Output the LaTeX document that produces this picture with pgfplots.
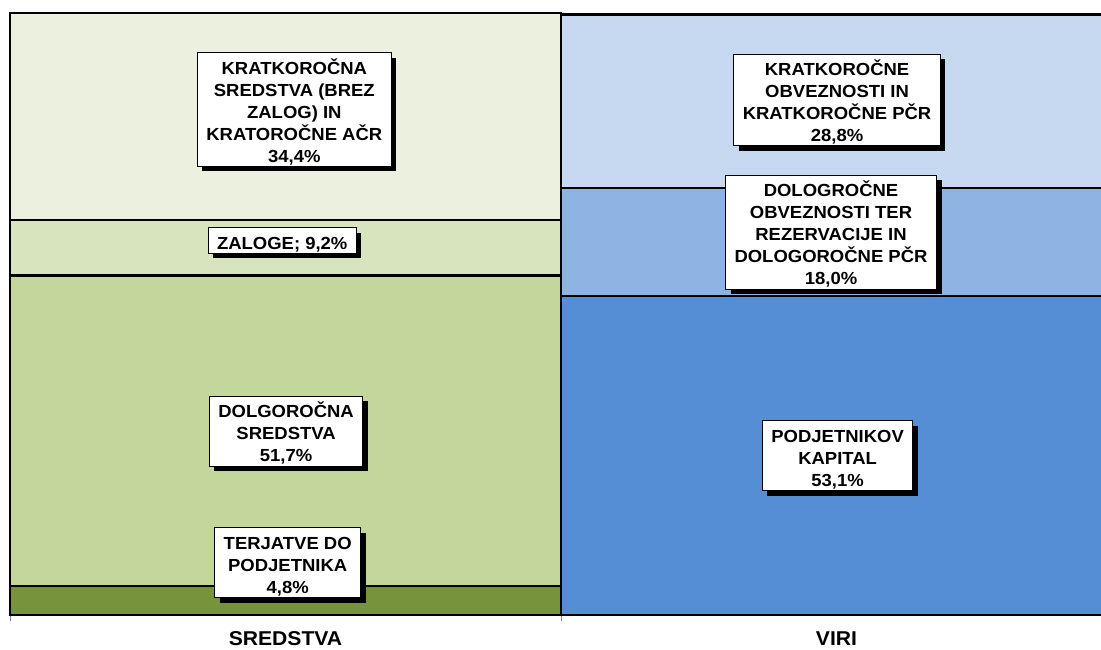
\documentclass[border=0pt]{standalone}
\usepackage{pgfplots}
\pgfplotsset{compat=1.18}
\usepackage{fontspec}
\setmainfont{Liberation Sans}
\newfontfamily\lblfont{Liberation Sans}[FakeStretch=1.056]
\usetikzlibrary{shadows}
\definecolor{lA}{HTML}{EBF1DE}
\definecolor{lB}{HTML}{D7E4BD}
\definecolor{lC}{HTML}{C3D69B}
\definecolor{lD}{HTML}{77933C}
\definecolor{rA}{HTML}{C6D9F1}
\definecolor{rB}{HTML}{8EB4E3}
\definecolor{rC}{HTML}{558ED5}
\newcommand\T{\rule{0pt}{20pt}}
\newcommand\B{\rule[-2.5pt]{0pt}{2.5pt}}
\tikzset{
  lbl/.style={draw=black, line width=0.8pt, fill=white, align=center,
    font=\lblfont\bfseries\fontsize{17.5}{22}\selectfont,
    inner xsep=9pt, inner ysep=1.5pt,
    drop shadow={shadow xshift=5pt, shadow yshift=-5pt, opacity=1, fill=black}}
}
\pgfplotsset{
  base/.style={at={(10pt,34pt)}, anchor=south west, scale only axis,
    width=1091pt, height=601pt, xmin=-0.5, xmax=1.48, ymin=0, ymax=100,
    ybar stacked, bar width=1, clip=false},
  seg/.style={draw=black, line width=2.2pt, fill=#1}
}
\begin{document}
\begin{tikzpicture}[x=1pt,y=1pt]
\begin{axis}[base,
  axis y line=none, axis x line*=bottom,
  x axis line style={line width=2.5pt, black},
  xtick={0,1}, xticklabels={SREDSTVA,VIRI},
  major tick length=0pt,
  xticklabel style={font=\lblfont\bfseries\fontsize{20}{22}\selectfont, anchor=base, yshift=-30.5pt},
  extra x ticks={-0.5,0.5}, extra x tick labels={},
  extra x tick style={major tick length=6pt, tick align=outside, tick style={gray, line width=0.8pt}},
  ]
\addplot[seg=lD] coordinates {(0,4.8)};
\addplot[seg=lC] coordinates {(0,51.7)};
\addplot[seg=lB] coordinates {(0,9.2)};
\addplot[seg=lA] coordinates {(0,34.4)};
\end{axis}
\begin{axis}[base, hide axis]
\addplot[seg=rC] coordinates {(1,53.1)};
\addplot[seg=rB] coordinates {(1,18.0)};
\addplot[seg=rA] coordinates {(1,28.8)};
\end{axis}
\begin{axis}[base, hide axis]
\node[lbl] at (axis cs:0.016,84.1) {\T KRATKOROČNA\\SREDSTVA (BREZ\\ZALOG) IN\\KRATOROČNE AČR\\34,4\%\B};
\node[lbl] at (axis cs:-0.006,62.3) {\T ZALOGE; 9,2\%\B};
\node[lbl] at (axis cs:0.001,30.6) {\T DOLGOROČNA\\SREDSTVA\\51,7\%\B};
\node[lbl] at (axis cs:0.004,8.7) {\T TERJATVE DO\\PODJETNIKA\\4,8\%\B};
\node[lbl] at (axis cs:1.001,85.7) {\T KRATKOROČNE\\OBVEZNOSTI IN\\KRATKOROČNE PČR\\28,8\%\B};
\node[lbl] at (axis cs:0.99,63.7) {\T DOLOGROČNE\\OBVEZNOSTI TER\\REZERVACIJE IN\\DOLOGOROČNE PČR\\18,0\%\B};
\node[lbl] at (axis cs:1.002,26.5) {\T PODJETNIKOV\\KAPITAL\\53,1\%\B};
\end{axis}
\pgfresetboundingbox
\useasboundingbox (0,0) rectangle (1101,649);
\end{tikzpicture}
\end{document}
